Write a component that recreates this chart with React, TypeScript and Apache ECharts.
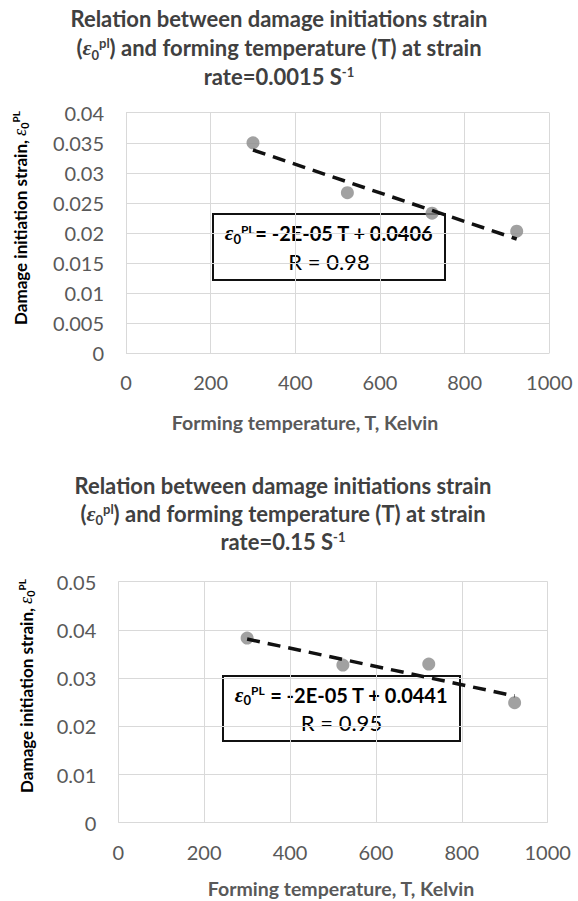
import React, { useEffect, useRef } from "react";
import * as echarts from "echarts";

// ---- data ----
const TEMPERATURES = [300, 523, 723, 923];
const STRAIN_RATE_0015 = [0.035, 0.0267, 0.0233, 0.0203];
const STRAIN_RATE_015 = [0.0383, 0.0327, 0.0329, 0.0249];
const TREND_T = [300, 923];
const TREND_0015 = [0.0338, 0.019];
const TREND_015 = [0.0381, 0.0263];
const X_MAX = 1000;
const X_STEP = 200;
const Y1_MAX = 0.04;
const Y1_STEP = 0.005;
const Y2_MAX = 0.05;
const Y2_STEP = 0.01;
const TITLE_1 = ["Relation between damage initiations strain", ") and forming temperature (T) at strain", "rate=0.0015 S"];
const TITLE_2 = ["Relation between damage initiations strain", ") and forming temperature (T) at strain", "rate=0.15 S"];
const EQ_1 = ["= -2E-05 T + 0.0406", "R = 0.98"];
const EQ_2 = [" = -2E-05 T + 0.0441", "R = 0.95"];
const X_NAME = "Forming temperature, T, Kelvin";
const Y_NAME = "Damage initiation strain, ";

const FONT = "Lato";
const SERIF = "Liberation Serif";
const DARK = "#404040";
const GREY = "#595959";

function titleRich(lh: number) {
  return {
    b: { fontFamily: FONT, fontWeight: "bold", fontSize: 22, color: DARK, lineHeight: lh },
    e: { fontFamily: SERIF, fontStyle: "italic", fontSize: 22, color: DARK, lineHeight: lh },
    sub: { fontFamily: FONT, fontWeight: "bold", fontSize: 13, color: DARK, lineHeight: 13, verticalAlign: "bottom", padding: [0, 0, 1, 0] },
    sup: { fontFamily: FONT, fontWeight: "bold", fontSize: 13, color: DARK, lineHeight: 13, verticalAlign: "top", padding: [3, 0, 0, 0] },
  };
}

function titleText(t: string[]) {
  return `{b|${t[0]}}\n{b|(}{e|ε}{sub|0}{sup|pl}{b|${t[1]}}\n{b|${t[2]}}{sup|-1}`;
}

function yNameEl(x: number, y: number) {
  return {
    type: "text",
    x,
    y,
    rotation: Math.PI / 2,
    z: 10,
    style: {
      text: `{b|${Y_NAME}}{e|ε}{sub|0}{sup|PL}`,
      align: "center",
      verticalAlign: "middle",
      rich: {
        b: { fontFamily: FONT, fontWeight: "bold", fontSize: 17, color: GREY, lineHeight: 24 },
        e: { fontFamily: SERIF, fontStyle: "italic", fontSize: 18, color: GREY, lineHeight: 24 },
        sub: { fontFamily: FONT, fontWeight: "bold", fontSize: 11, color: GREY, lineHeight: 11, verticalAlign: "bottom", padding: [0, 0, 2, 0] },
        sup: { fontFamily: FONT, fontWeight: "bold", fontSize: 10, color: GREY, lineHeight: 10, verticalAlign: "top", padding: [3, 0, 0, 0] },
      },
    },
  };
}

function xNameEl(x: number, y: number) {
  return {
    type: "text",
    x,
    y,
    z: 10,
    style: {
      text: X_NAME,
      align: "center",
      verticalAlign: "middle",
      fontFamily: FONT,
      fontWeight: "bold",
      fontSize: 19.5,
      fill: GREY,
    },
  };
}

function eqBox(bx: number, by: number, bw: number, bh: number, eq: string[]) {
  return {
    type: "group",
    z: 1,
    children: [
      {
        type: "rect",
        shape: { x: bx, y: by, width: bw, height: bh },
        style: { fill: "transparent", stroke: "#111", lineWidth: 2 },
      },
      {
        type: "text",
        x: bx + bw / 2,
        y: by + bh / 2,
        style: {
          text: `{e|ε}{sub|0}{sup|PL}{b|${eq[0]}}\n{r|${eq[1]}}`,
          align: "center",
          verticalAlign: "middle",
          rich: {
            b: { fontFamily: FONT, fontWeight: "bold", fontSize: 20, color: DARK, lineHeight: 28 },
            r: { fontFamily: FONT, fontSize: 22, color: GREY, lineHeight: 28 },
            e: { fontFamily: SERIF, fontStyle: "italic", fontWeight: "bold", fontSize: 21, color: DARK, lineHeight: 28 },
            sub: { fontFamily: FONT, fontWeight: "bold", fontSize: 13, color: DARK, lineHeight: 13, verticalAlign: "bottom", padding: [0, 0, 2, 0] },
            sup: { fontFamily: FONT, fontWeight: "bold", fontSize: 12, color: DARK, lineHeight: 12, verticalAlign: "top", padding: [4, 0, 0, 0] },
          },
        },
      },
    ],
  };
}

const axisLabel = {
  fontFamily: FONT,
  fontSize: 20,
  color: GREY,
  margin: 19,
  formatter: (v: number) => String(v),
};
const splitLine = { show: true, lineStyle: { color: "#d9d9d9", width: 1 } };

function xAxis(gridIndex: number) {
  return {
    type: "value",
    gridIndex,
    min: 0,
    max: X_MAX,
    interval: X_STEP,
    axisLine: { show: false },
    axisTick: { show: false },
    axisLabel,
    splitLine,
  };
}

function yAxis(gridIndex: number, max: number, step: number) {
  return {
    type: "value",
    gridIndex,
    min: 0,
    max,
    interval: step,
    axisLine: { show: false },
    axisTick: { show: false },
    axisLabel: { ...axisLabel, margin: 22 },
    splitLine,
  };
}

function scatter(idx: number, vals: number[]) {
  return {
    type: "scatter",
    xAxisIndex: idx,
    yAxisIndex: idx,
    symbolSize: 13,
    itemStyle: { color: "#8a8a8a" },
    z: 3,
    data: TEMPERATURES.map((t, i) => [t, vals[i]]),
  };
}

function trend(idx: number, vals: number[]) {
  return {
    type: "line",
    xAxisIndex: idx,
    yAxisIndex: idx,
    showSymbol: false,
    symbol: "none",
    z: 4,
    lineStyle: { color: "#111", width: 3.5, type: [13, 8] },
    data: TREND_T.map((t, i) => [t, vals[i]]),
  };
}

export default function App() {
  const ref = useRef<HTMLDivElement>(null);
  useEffect(() => {
    document.body.style.margin = "0";
    if (!ref.current) return;
    const chart = echarts.init(ref.current, null, { renderer: "svg" });
    chart.setOption({
      animation: false,
      backgroundColor: "#ffffff",
      title: [
        {
          text: titleText(TITLE_1),
          left: 279,
          top: 4,
          padding: 0,
          textAlign: "center",
          textStyle: { rich: titleRich(29) },
        },
        {
          text: titleText(TITLE_2),
          left: 283,
          top: 471,
          padding: 0,
          textAlign: "center",
          textStyle: { rich: titleRich(28) },
        },
      ],
      grid: [
        { left: 126, top: 112.7, width: 423.3, height: 240.6 },
        { left: 118.3, top: 581.7, width: 429.4, height: 241 },
      ],
      xAxis: [xAxis(0), xAxis(1)],
      yAxis: [yAxis(0, Y1_MAX, Y1_STEP), yAxis(1, Y2_MAX, Y2_STEP)],
      series: [
        scatter(0, STRAIN_RATE_0015),
        trend(0, TREND_0015),
        scatter(1, STRAIN_RATE_015),
        trend(1, TREND_015),
      ],
      graphic: [
        yNameEl(20, 218),
        yNameEl(26, 686),
        xNameEl(305, 422),
        xNameEl(341, 888),
        eqBox(213, 214, 232, 66, EQ_1),
        eqBox(223, 676, 237, 65, EQ_2),
      ],
    });
    return () => chart.dispose();
  }, []);
  return <div ref={ref} style={{ width: 578, height: 901 }} />;
}
